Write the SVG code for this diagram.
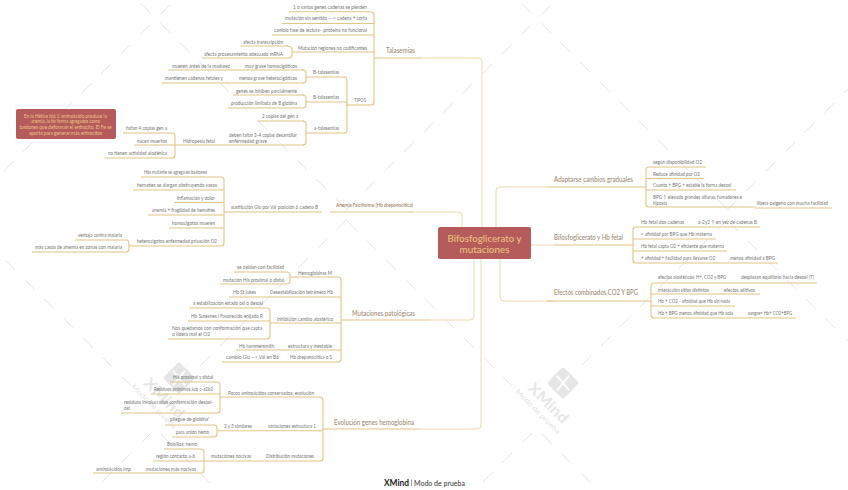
<svg xmlns="http://www.w3.org/2000/svg" xmlns:xlink="http://www.w3.org/1999/xlink" width="848" height="490" viewBox="0 0 848 490">
<style>
text{font-family:"Lato","Noto Sans","Liberation Sans",sans-serif}
.t{font-size:5.2px;fill:#757575}
.m{font-size:7px;fill:#a08a72;font-weight:500}
.c{font-size:10px;fill:#e9c27c;font-weight:500;text-anchor:middle}
.n{font-size:5.2px;fill:#ecc684;text-anchor:middle}
.u{stroke:#e5c484;stroke-width:1.1;fill:none}
.k{stroke:#eed9ae;stroke-width:1;fill:none}
.w{stroke:#dedede;stroke-width:.8;stroke-dasharray:14.1 13.5;fill:none}
.wt{fill:#e6e6e6;font-weight:700;font-size:15px}
.ws{fill:#e2e2e2;font-size:7px}
</style>
<defs>
<g id="tile">
<path class="w" d="M140.5 3.5L348 211"/>
<path class="w" d="M345.5 210.5L556 0"/>
<path class="w" d="M347 221L512 386"/>
<path class="w" d="M347 219L190 376"/>
<path class="w" d="M542 434L640 532"/>
<path class="w" d="M532 433L440 525"/>
</g>
<g id="logo">
<rect x="-11.5" y="-11.5" width="23" height="23" rx="2.5" transform="rotate(45)" fill="#e6e6e6"/>
<path d="M-9 -6L9 6M-9 6L9 -6" transform="rotate(90) scale(.8 1)" stroke="#fff" stroke-width="2" fill="none"/>
<text class="wt" transform="translate(-36 6) rotate(45)" textLength="50" lengthAdjust="spacingAndGlyphs">XMind</text>
<text class="ws" transform="translate(-48 9) rotate(45)" textLength="60" lengthAdjust="spacingAndGlyphs">Modo de prueba</text>
</g>
</defs>
<rect width="848" height="490" fill="#fff"/>
<g id="watermark">
<use xlink:href="#tile" href="#tile" x="-381"/>
<use xlink:href="#tile" href="#tile"/>
<use xlink:href="#tile" x="381" href="#tile"/>
<use href="#logo" xlink:href="#logo" x="179" y="378"/>
<use href="#logo" xlink:href="#logo" x="563" y="383"/>
</g>
<g id="connectors">
<path class="k" d="M422 58H478Q482 58 482 62V227"/>
<path class="k" d="M413 212H458Q462 212 462 216V227"/>
<path class="k" d="M430 320H470Q474 320 474 316V259"/>
<path class="k" d="M420 429H477Q481 429 481 425V259"/>
<path class="k" d="M547 187H500Q496 187 496 191V227"/>
<path class="k" d="M531 245H554"/>
<path class="k" d="M554 301H504Q500 301 500 297V259"/>
<path class="u" d="M371 12Q374 12 374 15V102Q374 105 371 105"/>
<path class="u" d="M287 46Q292 46 292 49V55Q292 58 289 58"/>
<path class="u" d="M344 77Q347 77 347 80V130Q347 133 344 133"/>
<path class="u" d="M303 70Q306 70 306 73V80Q306 83 303 83"/>
<path class="u" d="M303 95Q306 95 306 98V105Q306 108 303 108"/>
<path class="u" d="M303 121Q306 121 306 124V142Q306 145 303 145"/>
<path class="u" d="M172 133Q175 133 175 136V155Q175 158 172 158"/>
<path class="u" d="M221 177Q224 177 224 180V243Q224 246 221 246"/>
<path class="u" d="M126 240Q129 240 129 243V249Q129 252 126 252"/>
<path class="u" d="M338 277Q341 277 341 280V359Q341 362 338 362"/>
<path class="u" d="M287 272Q290 272 290 275V281Q290 284 287 284"/>
<path class="u" d="M267 308Q270 308 270 311V336Q270 339 267 339"/>
<path class="u" d="M320 397Q323 397 323 400V458Q323 461 320 461"/>
<path class="u" d="M217 382Q220 382 220 385V410Q220 413 217 413"/>
<path class="u" d="M214 425Q217 425 217 428V434Q217 437 214 437"/>
<path class="u" d="M201 449Q204 449 204 452V470Q204 473 201 473"/>
<path class="u" d="M649 167Q646 167 646 170V204Q646 207 649 207"/>
<path class="u" d="M636 227Q633 227 633 230V260Q633 263 636 263"/>
<path class="u" d="M654 283Q651 283 651 286V315Q651 318 654 318"/>
</g>

<g id="centro">
<rect x="438" y="227" width="93" height="32" rx="2" fill="#b55b5b"/>
<text class="c" x="484.5" y="241.5" textLength="74" lengthAdjust="spacingAndGlyphs">Bifosfoglicerato y</text>
<text class="c" x="484.5" y="252.5" textLength="50" lengthAdjust="spacingAndGlyphs">mutaciones</text>
</g>

<g id="talasemias"><text class="m" x="386" y="53" textLength="29" lengthAdjust="spacingAndGlyphs">Talasemias</text><path class="u" d="M374 58H422"/></g>
<g id="n1"><text class="t" x="293" y="8.8" textLength="74" lengthAdjust="spacingAndGlyphs">1 o varios genes cadenas se pierden</text><path class="u" d="M289 11.7H371"/></g>
<g id="n2"><text class="t" x="285" y="19.8" textLength="82" lengthAdjust="spacingAndGlyphs">mutación sin sentido ---&gt; cadena + corta</text><path class="u" d="M282 23.5H374"/></g>
<g id="n3"><text class="t" x="274" y="31.8" textLength="93" lengthAdjust="spacingAndGlyphs">cambio fase de lectura- ›proteína no funcional</text><path class="u" d="M272 35H374"/></g>
<g id="n4"><text class="t" x="298" y="49.8" textLength="69" lengthAdjust="spacingAndGlyphs">Mutación regiones no codificantes</text><path class="u" d="M293 52H374"/></g>
<g id="n5"><text class="t" x="243" y="43.8" textLength="40" lengthAdjust="spacingAndGlyphs">afecta transcripción</text><path class="u" d="M241 46H288"/></g>
<g id="n6"><text class="t" x="204" y="55.8" textLength="79" lengthAdjust="spacingAndGlyphs">afecta procesamiento adecuado mRNA</text><path class="u" d="M202 58H289"/></g>
<g id="tipos"><text class="t" x="354" y="102" textLength="12" lengthAdjust="spacingAndGlyphs">TIPOS</text><path class="u" d="M346 105H371"/></g>
<g id="n7"><text class="t" x="313" y="73.8" textLength="26" lengthAdjust="spacingAndGlyphs">B-talasemias</text><path class="u" d="M306 77H345"/></g>
<g id="n8"><text class="t" x="245" y="67.8" textLength="52" lengthAdjust="spacingAndGlyphs">muy grave homocigóticos</text><path class="u" d="M240 70H304"/></g>
<g id="n9"><text class="t" x="172" y="67.8" textLength="58" lengthAdjust="spacingAndGlyphs">mueren antes de la madurez</text><path class="u" d="M168 70H240"/></g>
<g id="n10"><text class="t" x="239" y="79.8" textLength="58" lengthAdjust="spacingAndGlyphs">menos grave heterocigóticos</text><path class="u" d="M235 83H304"/></g>
<g id="n11"><text class="t" x="165" y="79.8" textLength="58" lengthAdjust="spacingAndGlyphs">mantienen cadenas fetales y</text><path class="u" d="M162 83H235"/></g>
<g id="n12"><text class="t" x="313" y="98.8" textLength="26" lengthAdjust="spacingAndGlyphs">B-talasemias</text><path class="u" d="M306 102H347"/></g>
<g id="n13"><text class="t" x="236" y="92.8" textLength="61" lengthAdjust="spacingAndGlyphs">genes se inhiben parcialmente</text><path class="u" d="M233 95H304"/></g>
<g id="n14"><text class="t" x="231" y="104.8" textLength="66" lengthAdjust="spacingAndGlyphs">producción limitada de B globina</text><path class="u" d="M228 108H304"/></g>
<g id="n15"><text class="t" x="314" y="129.8" textLength="25" lengthAdjust="spacingAndGlyphs">a-talasemias</text><path class="u" d="M306 133H345"/></g>
<g id="n16"><text class="t" x="262" y="117.8" textLength="36" lengthAdjust="spacingAndGlyphs">2 copias del gen a</text><path class="u" d="M258 121H304"/></g>
<g id="n17"><text class="t" x="229" y="136.8" textLength="68" lengthAdjust="spacingAndGlyphs">deben faltar 3-4 copias desarrollar</text><text class="t" x="229" y="142.8" textLength="38" lengthAdjust="spacingAndGlyphs">enfermedad grave</text><path class="u" d="M226 145H304"/></g>
<g id="n18"><text class="t" x="183" y="142.8" textLength="32" lengthAdjust="spacingAndGlyphs">Hidropesía fetal</text><path class="u" d="M175 145H226"/></g>
<g id="n19"><text class="t" x="126" y="130.3" textLength="41" lengthAdjust="spacingAndGlyphs">faltan 4 copias gen a</text><path class="u" d="M123 133H172"/></g>
<g id="n20"><text class="t" x="137" y="142.8" textLength="30" lengthAdjust="spacingAndGlyphs">nacen muertos</text><path class="u" d="M134 145H175"/></g>
<g id="n21"><text class="t" x="108" y="154.8" textLength="59" lengthAdjust="spacingAndGlyphs">no tienen actividad alodénica</text><path class="u" d="M105 158H172"/></g>
<g id="nota">
<rect x="16" y="109" width="100" height="30" rx="2" fill="#b55b5b"/>
<text class="n" x="65.5" y="117.8" textLength="83" lengthAdjust="spacingAndGlyphs">En la Hélice bi6 1 aminoácido produce la</text>
<text class="n" x="65.5" y="123.3" textLength="69" lengthAdjust="spacingAndGlyphs">anemia, la hb forma agregados como</text>
<text class="n" x="65.5" y="128.8" textLength="92" lengthAdjust="spacingAndGlyphs">bastones que deforman el entrocito. El Fe se</text>
<text class="n" x="65.5" y="134.8" textLength="73" lengthAdjust="spacingAndGlyphs">aporta para generar más eritrocitos</text>
</g>

<g id="anemia"><text class="m" style="font-size:5.6px;fill:#94785a" x="336" y="207" textLength="77" lengthAdjust="spacingAndGlyphs">Anemia Falciforme (Hb drepanocítica)</text><path class="u" d="M330 212H413"/></g>
<g id="a1"><text class="t" x="231" y="209.3" textLength="87" lengthAdjust="spacingAndGlyphs">sustitución Glu por Val posición 6 cadena B</text><path class="u" d="M224 212H322"/></g>
<g id="a2"><text class="t" x="144" y="174.3" textLength="63" lengthAdjust="spacingAndGlyphs">Hbs mutante se agrega en bastones</text><path class="u" d="M141 177H221"/></g>
<g id="a3"><text class="t" x="137" y="186.8" textLength="80" lengthAdjust="spacingAndGlyphs">hematíes se alargan obstruyendo vasos</text><path class="u" d="M133 190H224"/></g>
<g id="a4"><text class="t" x="177" y="199.8" textLength="38" lengthAdjust="spacingAndGlyphs">inflamación y dolor</text><path class="u" d="M174 202.5H224"/></g>
<g id="a5"><text class="t" x="152" y="212.3" textLength="63" lengthAdjust="spacingAndGlyphs">anemia + fragilidad de hematíes</text><path class="u" d="M148 215H224"/></g>
<g id="a6"><text class="t" x="172" y="224.8" textLength="43" lengthAdjust="spacingAndGlyphs">homocigotos mueren</text><path class="u" d="M169 228H224"/></g>
<g id="a7"><text class="t" x="137" y="243.3" textLength="80" lengthAdjust="spacingAndGlyphs">heterocigotos enfermedad privación O2</text><path class="u" d="M129 246H221"/></g>
<g id="a8"><text class="t" x="78" y="236.8" textLength="44" lengthAdjust="spacingAndGlyphs">ventaja contra malaria</text><path class="u" d="M75 240H126"/></g>
<g id="a9"><text class="t" x="35" y="248.8" textLength="87" lengthAdjust="spacingAndGlyphs">más casos de anemia en zonas con malaria</text><path class="u" d="M32 252H126"/></g>

<g id="mutaciones"><text class="m" x="352" y="315.5" textLength="63" lengthAdjust="spacingAndGlyphs">Mutaciones patológicas</text><path class="u" d="M341 320H430"/></g>
<g id="b1"><text class="t" x="298" y="274.8" textLength="34" lengthAdjust="spacingAndGlyphs">Hemoglobinas M</text><path class="u" d="M290 277H338"/></g>
<g id="b2"><text class="t" x="237" y="268.8" textLength="47" lengthAdjust="spacingAndGlyphs">se oxidan con facilidad</text><path class="u" d="M234 272H287"/></g>
<g id="b3"><text class="t" x="223" y="281.8" textLength="61" lengthAdjust="spacingAndGlyphs">mutación His proximal o distal</text><path class="u" d="M220 284H287"/></g>
<g id="b4"><text class="t" x="270" y="293.8" textLength="63" lengthAdjust="spacingAndGlyphs">Desestabilización tetrámero Hb</text><path class="u" d="M266 297H341"/></g>
<g id="b5"><text class="t" x="233" y="293.8" textLength="23" lengthAdjust="spacingAndGlyphs">Hb St lukes</text><path class="u" d="M229 297H266"/></g>
<g id="b6"><text class="t" x="277" y="320.8" textLength="56" lengthAdjust="spacingAndGlyphs">Inhibición cambio alostérico</text><path class="u" d="M270 323H341"/></g>
<g id="b7"><text class="t" x="193" y="304.8" textLength="70" lengthAdjust="spacingAndGlyphs">x estabilización estado oxi o desoxi</text><path class="u" d="M189 308H267"/></g>
<g id="b8"><text class="t" x="191" y="317.8" textLength="72" lengthAdjust="spacingAndGlyphs">Hb Suresnes i Favorecido enljado R</text><path class="u" d="M188 321H270"/></g>
<g id="b9"><text class="t" x="172" y="329.8" textLength="90" lengthAdjust="spacingAndGlyphs">Nos quedamos con conformación que capta</text><text class="t" x="172" y="335.8" textLength="38" lengthAdjust="spacingAndGlyphs">o libera mal el O2</text><path class="u" d="M168 339H267"/></g>
<g id="b10"><text class="t" x="288" y="347.8" textLength="44" lengthAdjust="spacingAndGlyphs">estructura y inestable</text><path class="u" d="M284 350H341"/></g>
<g id="b11"><text class="t" x="239" y="347.8" textLength="35" lengthAdjust="spacingAndGlyphs">Hb hammersmith</text><path class="u" d="M236 350H284"/></g>
<g id="b12"><text class="t" x="290" y="359.3" textLength="42" lengthAdjust="spacingAndGlyphs">Hb drepanocítica o S</text><path class="u" d="M286 362H338"/></g>
<g id="b13"><text class="t" x="226" y="359.3" textLength="53" lengthAdjust="spacingAndGlyphs">cambio Glu --&gt; Val en B6</text><path class="u" d="M222 362H286"/></g>

<g id="evolucion"><text class="m" x="334" y="424.5" textLength="80" lengthAdjust="spacingAndGlyphs">Evolución genes hemoglobina</text><path class="u" d="M323 429H420"/></g>
<g id="c1"><text class="t" x="228" y="394.8" textLength="86" lengthAdjust="spacingAndGlyphs">Pocos aminoácidos conservados, evolución</text><path class="u" d="M220 397H320"/></g>
<g id="c2"><text class="t" x="173" y="378.8" textLength="40" lengthAdjust="spacingAndGlyphs">His proximal y distal</text><path class="u" d="M170 382H217"/></g>
<g id="c3"><text class="t" x="154" y="391.3" textLength="59" lengthAdjust="spacingAndGlyphs">Residuos próximos ácb c-a2b2</text><path class="u" d="M151 394H220"/></g>
<g id="c4"><text class="t" x="124" y="403.8" textLength="89" lengthAdjust="spacingAndGlyphs">residuos involucrados conformación desoxi-</text><text class="t" x="124" y="409.8" textLength="6" lengthAdjust="spacingAndGlyphs">oxi</text><path class="u" d="M121 413H217"/></g>
<g id="c5"><text class="t" x="268" y="427.8" textLength="48" lengthAdjust="spacingAndGlyphs">variaciones estructura 1</text><path class="u" d="M265 430.7H323"/></g>
<g id="c6"><text class="t" x="224" y="427.8" textLength="28" lengthAdjust="spacingAndGlyphs">2 y 3 similares</text><path class="u" d="M217 430.7H265"/></g>
<g id="c7"><text class="t" x="169" y="421.3" textLength="40" lengthAdjust="spacingAndGlyphs">'pliegue de globina'</text><path class="u" d="M165 425H214"/></g>
<g id="c8"><text class="t" x="176" y="433.8" textLength="33" lengthAdjust="spacingAndGlyphs">para unión hemo</text><path class="u" d="M172 437H214"/></g>
<g id="c9"><text class="t" x="266" y="457.8" textLength="48" lengthAdjust="spacingAndGlyphs">Distribución mutaciones</text><path class="u" d="M263 461H320"/></g>
<g id="c10"><text class="t" x="211" y="457.8" textLength="40" lengthAdjust="spacingAndGlyphs">mutaciones nocivas</text><path class="u" d="M204 461H263"/></g>
<g id="c11"><text class="t" x="167" y="445.8" textLength="30" lengthAdjust="spacingAndGlyphs">Bolsillos: hemo</text><path class="u" d="M164 449H201"/></g>
<g id="c12"><text class="t" x="156" y="458.3" textLength="39" lengthAdjust="spacingAndGlyphs">región contacto a-b</text><path class="u" d="M153 461H204"/></g>
<g id="c13"><text class="t" x="146" y="470.8" textLength="50" lengthAdjust="spacingAndGlyphs">mutaciones más nocivas</text><path class="u" d="M137 473H201"/></g>
<g id="c14"><text class="t" x="96" y="470.8" textLength="35" lengthAdjust="spacingAndGlyphs">aminoácidos imp</text><path class="u" d="M93 473H137"/></g>

<g id="adaptarse"><text class="m" x="554" y="181.5" textLength="79" lengthAdjust="spacingAndGlyphs">Adaptarse cambios graduales</text><path class="u" d="M547 187H646"/></g>
<g id="d1"><text class="t" x="653" y="163.8" textLength="49" lengthAdjust="spacingAndGlyphs">según disponibilidad O2</text><path class="u" d="M649 167H706"/></g>
<g id="d2"><text class="t" x="653" y="175.8" textLength="47" lengthAdjust="spacingAndGlyphs">Reduce afinidad por O2</text><path class="u" d="M646 178.5H704"/></g>
<g id="d3"><text class="t" x="653" y="186.8" textLength="78" lengthAdjust="spacingAndGlyphs">Cuanto + BPG + estable la forma desoxi</text><path class="u" d="M646 190H736"/></g>
<g id="d4"><text class="t" x="653" y="198.8" textLength="89" lengthAdjust="spacingAndGlyphs">BPG ↑ elevado grandes alturas, fumadores e</text><text class="t" x="653" y="204.8" textLength="14" lengthAdjust="spacingAndGlyphs">hipoxia</text><path class="u" d="M649 207H755"/></g>
<g id="d5"><text class="t" x="757" y="204.8" textLength="71" lengthAdjust="spacingAndGlyphs">libera oxígeno con mucha facilidad</text><path class="u" d="M755 208H832"/></g>

<g id="fetal"><text class="m" x="554" y="240" textLength="69" lengthAdjust="spacingAndGlyphs">Bifosfoglicerato y Hb fetal</text><path class="u" d="M554 245H633"/></g>
<g id="e1"><text class="t" x="641" y="223.8" textLength="43" lengthAdjust="spacingAndGlyphs">Hb fetal dos cadenas</text><path class="u" d="M636 227H692"/></g>
<g id="e2"><text class="t" x="698" y="223.8" textLength="59" lengthAdjust="spacingAndGlyphs">a-2γ2 ↑ en vez de cadenas B</text><path class="u" d="M692 227H760"/></g>
<g id="e3"><text class="t" x="641" y="235.8" textLength="71" lengthAdjust="spacingAndGlyphs">&lt; afinidad por BPG que Hb materna</text><path class="u" d="M633 239H716"/></g>
<g id="e4"><text class="t" x="641" y="247.8" textLength="83" lengthAdjust="spacingAndGlyphs">Hb fetal capta O2 + eficiente que materna</text><path class="u" d="M633 251H727"/></g>
<g id="e5"><text class="t" x="641" y="259.8" textLength="74" lengthAdjust="spacingAndGlyphs">+ afinidad + facilidad para llevarse O2</text><path class="u" d="M636 263H726"/></g>
<g id="e6"><text class="t" x="730" y="259.8" textLength="45" lengthAdjust="spacingAndGlyphs">menos afinidad x BPG</text><path class="u" d="M726 263H778"/></g>

<g id="efectos"><text class="m" x="554" y="295" textLength="84" lengthAdjust="spacingAndGlyphs">Efectos combinados CO2 Y BPG</text><path class="u" d="M547 301H651"/></g>
<g id="f1"><text class="t" x="658" y="279.3" textLength="68" lengthAdjust="spacingAndGlyphs">efectos alostéricos: H+, CO2 y BPG</text><path class="u" d="M654 283H737"/></g>
<g id="f2"><text class="t" x="741" y="279.3" textLength="73" lengthAdjust="spacingAndGlyphs">desplazan equilibrio hacia desoxi (T)</text><path class="u" d="M737 283H817"/></g>
<g id="f3"><text class="t" x="658" y="291.8" textLength="51" lengthAdjust="spacingAndGlyphs">interacción sitios distintos</text><path class="u" d="M651 294H720"/></g>
<g id="f4"><text class="t" x="724" y="291.8" textLength="31" lengthAdjust="spacingAndGlyphs">efectos aditivos</text><path class="u" d="M720 294H760"/></g>
<g id="f5"><text class="t" x="658" y="302.8" textLength="72" lengthAdjust="spacingAndGlyphs">Hb + CO2 - afinidad que Hb sin nada</text><path class="u" d="M651 306H735"/></g>
<g id="f6"><text class="t" x="658" y="314.8" textLength="75" lengthAdjust="spacingAndGlyphs">Hb + BPG menos afinidad que Hb sola</text><path class="u" d="M654 318H743"/></g>
<g id="f7"><text class="t" x="748" y="314.8" textLength="44" lengthAdjust="spacingAndGlyphs">sangre= Hb+ CO2+BPG</text><path class="u" d="M743 318H796"/></g>

<g id="marca"><text x="384" y="485.5" font-size="8.5" font-weight="700" fill="#222" textLength="25" lengthAdjust="spacingAndGlyphs">XMind</text><path d="M411.5 479.5V486" stroke="#555" stroke-width=".6"/><text x="414" y="485.5" font-size="6.6" font-weight="500" fill="#444" textLength="51" lengthAdjust="spacingAndGlyphs">Modo de prueba</text></g>
</svg>
